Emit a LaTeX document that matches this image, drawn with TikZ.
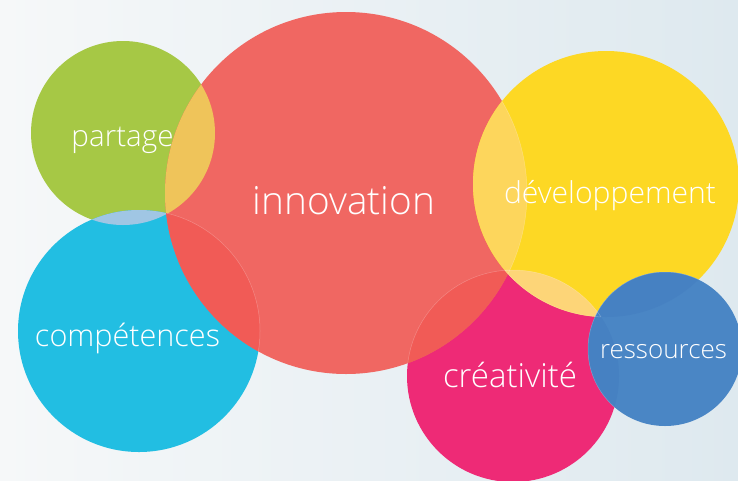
\documentclass[tikz,border=0pt]{standalone}
\usepackage{fontspec}
\setmainfont{Open Sans}[UprightFont=* Light]
\definecolor{bgL}{HTML}{F6F8F9}
\definecolor{bgR}{HTML}{DEE9EF}
\definecolor{cGreen}{HTML}{A6C845}
\definecolor{cRed}{HTML}{F06762}
\definecolor{cCyan}{HTML}{22BEE2}
\definecolor{cYellow}{HTML}{FDD824}
\definecolor{cPink}{HTML}{EE2A76}
\definecolor{cBlue}{HTML}{4A86C5}
\definecolor{lGR}{HTML}{EFC45A}
\definecolor{lGC}{HTML}{A0C6E4}
\definecolor{lRed}{HTML}{F15B56}
\definecolor{lRY}{HTML}{FDD65C}
\definecolor{lYP}{HTML}{FDD578}
\definecolor{lBlue}{HTML}{4681C2}
\tikzset{
  lbl/.style={text=white, anchor=base, inner sep=0pt, font=\fontsize{30}{30}\selectfont},
  rim/.style={draw=white, draw opacity=0.25, line width=0.5pt}
}
\begin{document}
\begin{tikzpicture}[x=1pt,y=-1pt]
\useasboundingbox (0,0) rectangle (738,480);
\shade[left color=bgL, right color=bgR] (0,0) rectangle (738,480);
\def\cP{(123,133) circle (92)}
\def\cI{(346,193) circle (181)}
\def\cC{(139,331) circle (121)}
\def\cD{(606,184) circle (133)}
\def\cK{(513,376) circle (106)}
\def\cR{(665,349) circle (77)}
\fill[cGreen] \cP;
\fill[cCyan] \cC;
\fill[cPink] \cK;
\fill[cRed] \cI;
\fill[cYellow] \cD;
\fill[cBlue] \cR;
\begin{scope}\clip \cP; \fill[lGR] \cI; \end{scope}
\begin{scope}\clip \cP; \fill[lGC] \cC; \end{scope}
\begin{scope}\clip \cC; \fill[lRed] \cI; \end{scope}
\begin{scope}\clip \cK; \fill[lRed] \cI; \end{scope}
\begin{scope}\clip \cI; \fill[lRY] \cD; \end{scope}
\begin{scope}\clip \cK; \fill[lYP] \cD; \end{scope}
\begin{scope}\clip \cR; \fill[lBlue] \cD; \end{scope}
\begin{scope}\clip \cR; \fill[lBlue] \cK; \end{scope}
\begin{scope}\clip \cI; \draw[rim] (513,376) circle (106); \draw[rim] (139,331) circle (121); \end{scope}
\begin{scope}\clip \cD; \draw[rim] (346,193) circle (181); \draw[rim] (513,376) circle (106); \draw[rim] (665,349) circle (77); \end{scope}
\begin{scope}\clip \cK; \draw[rim] (606,184) circle (133); \draw[rim] (665,349) circle (77); \end{scope}
\node[lbl] (tP) at (122.5,146) {\resizebox{102pt}{!}{partage}};
\node[lbl] (tI) at (344,214) {\resizebox{182pt}{!}{innovation}};
\node[lbl] (tC) at (127.5,346) {\resizebox{185pt}{!}{compétences}};
\node[lbl] (tD) at (610,203) {\resizebox{212pt}{!}{développement}};
\node[lbl] (tK) at (510,387) {\resizebox{134pt}{!}{créativité}};
\node[lbl] (tR) at (663.5,358) {\resizebox{127pt}{!}{ressources}};
\end{tikzpicture}
\end{document}
